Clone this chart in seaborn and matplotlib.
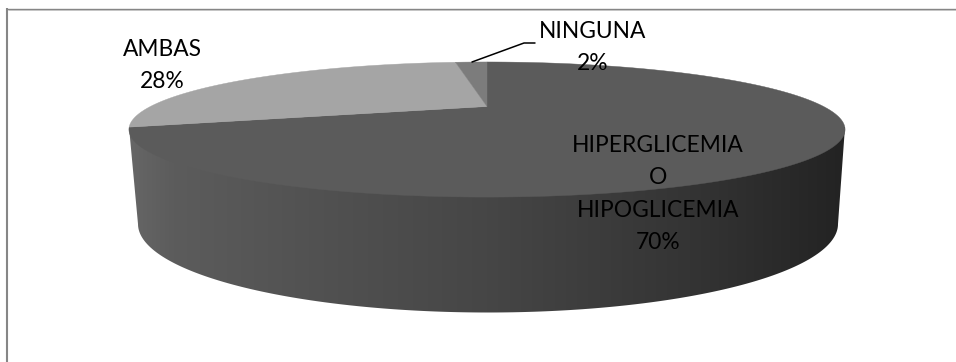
import numpy as np
import matplotlib
matplotlib.use("Agg")
import matplotlib.pyplot as plt
from matplotlib.patches import Polygon
from matplotlib.colors import LinearSegmentedColormap
import seaborn as sns

# Shares of each response
categories = ["HIPERGLICEMIA\nO\nHIPOGLICEMIA", "AMBAS", "NINGUNA"]
shares = [70, 28, 2]
slice_colors = ["#5b5b5b", "#a5a5a5", "#7c7c7c"]

sns.set_theme(style="white")
plt.rcParams["font.family"] = ["Lato", "DejaVu Sans"]

W, H = 956, 362
fig = plt.figure(figsize=(W / 100, H / 100), dpi=100)
ax = fig.add_axes([0, 0, 1, 1])

# Angles come from the pie layout; the flat wedges are then replaced by tilted ones
wedges, _ = ax.pie(shares, startangle=90, counterclock=False, colors=slice_colors)
thetas = [(w.theta1, w.theta2) for w in wedges]
for w in wedges:
    w.remove()
ax.set_aspect("auto")
ax.set_xlim(0, W)
ax.set_ylim(H, 0)
ax.set_axis_off()


def tilt(u, v):
    """Perspective projection of the unit disc onto the top face, in pixels."""
    w = 1 + 0.341 * v
    return 487 + 336.6 * u / w, 106.5 - 59.7 * v / w


# Side wall: horizontal shading clipped to the silhouette of the cylinder
phi = np.linspace(np.pi, 2 * np.pi, 200)
bottom = np.column_stack([488 + 350 * np.cos(phi), 224 - 88.5 * np.sin(phi)])
outline = np.vstack([[[129, 127]], bottom, [[845, 127]]])
wall = Polygon(outline, closed=True, fc="none", ec="none", transform=ax.transData)
ax.add_patch(wall)
shade = LinearSegmentedColormap.from_list(
    "wall",
    [(0.0, "#666666"), (0.06, "#5c5c5c"), (0.25, "#525252"), (0.5, "#464646"),
     (0.8, "#333333"), (1.0, "#232323")],
)
img = ax.imshow(np.linspace(0, 1, 256)[None, :], cmap=shade, aspect="auto",
                extent=(129, 845, 320, 120), interpolation="bilinear", zorder=1)
img.set_clip_path(wall)

# Top face, one tilted wedge per category
for (t1, t2), color in zip(thetas, slice_colors):
    t = np.radians(np.linspace(t1, t2, 240))
    x, y = tilt(np.cos(t), np.sin(t))
    x0, y0 = tilt(0.0, 0.0)
    pts = np.vstack([[x0, y0], np.column_stack([x, y])])
    ax.add_patch(Polygon(pts, closed=True, fc=color, ec=color, lw=0.3, zorder=2))

ax.set_xlim(0, W)
ax.set_ylim(H, 0)

# Labels
label_pos = [(658, 194), (162, 65.5), (593, 47.5)]
for name, share, (lx, ly) in zip(categories, shares, label_pos):
    ax.text(lx, ly, f"{name}\n{share}%", ha="center", va="center", fontsize=16.4,
            color="black", linespacing=1.68, zorder=4)

# Leader line for the small slice
ax.plot([472, 524, 535], [62, 43, 43], color="black", lw=1.1, zorder=3)

# Chart border: only the top and left edges are drawn
ax.plot([7, 7], [H, 8], color="#868686", lw=1.5, zorder=5, solid_capstyle="butt")
ax.plot([6, W], [8.7, 8.7], color="#868686", lw=1.0, zorder=5, solid_capstyle="butt")
ax.plot([8, W], [9.6, 9.6], color="#c4c4c4", lw=0.7, zorder=5, solid_capstyle="butt")

fig.savefig("out.png", dpi=100, facecolor="white")
